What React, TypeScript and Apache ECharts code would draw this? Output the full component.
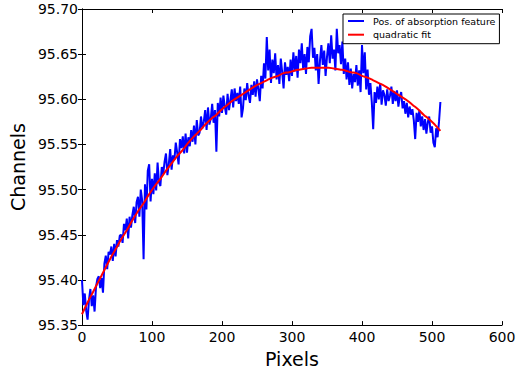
import { useEffect, useRef } from "react";
import * as echarts from "echarts";

const seriesNames = ["Pos. of absorption feature", "quadratic fit"];
const xLabel = "Pixels";
const yLabel = "Channels";
const xMin = 0;
const xMax = 600;
const xInterval = 100;
const yMin = 95.35;
const yMax = 95.7;
const yInterval = 0.05;

// measured position, sampled every 2 pixels (0..512)
const absorptionStep = 2;
const absorption = [
  95.400, 95.372, 95.385, 95.366,
  95.356, 95.378, 95.390, 95.371,
  95.383, 95.365, 95.392, 95.401,
  95.404, 95.391, 95.402, 95.386,
  95.418, 95.427, 95.412, 95.431,
  95.428, 95.437, 95.421, 95.440,
  95.426, 95.444, 95.437, 95.449,
  95.450, 95.441, 95.462, 95.455,
  95.468, 95.446, 95.470, 95.458,
  95.472, 95.481, 95.463, 95.486,
  95.492, 95.470, 95.500, 95.488,
  95.423, 95.506, 95.478, 95.521,
  95.528, 95.487, 95.512, 95.495,
  95.518, 95.499, 95.530, 95.508,
  95.504, 95.525, 95.517, 95.531,
  95.540, 95.516, 95.528, 95.545,
  95.522, 95.538, 95.533, 95.552,
  95.541, 95.528, 95.556, 95.546,
  95.559, 95.540, 95.562, 95.541,
  95.558, 95.548, 95.566, 95.553,
  95.571, 95.550, 95.577, 95.560,
  95.563, 95.581, 95.568, 95.575,
  95.588, 95.566, 95.591, 95.572,
  95.579, 95.595, 95.574, 95.588,
  95.542, 95.596, 95.581, 95.602,
  95.585, 95.604, 95.592, 95.583,
  95.606, 95.588, 95.599, 95.611,
  95.591, 95.612, 95.598, 95.607,
  95.595, 95.614, 95.580, 95.590,
  95.612, 95.599, 95.618, 95.604,
  95.596, 95.616, 95.605, 95.620,
  95.603, 95.622, 95.611, 95.598,
  95.626, 95.612, 95.640, 95.623,
  95.669, 95.632, 95.655, 95.618,
  95.644, 95.629, 95.651, 95.622,
  95.638, 95.617, 95.645, 95.630,
  95.612, 95.641, 95.627, 95.636,
  95.620, 95.644, 95.626, 95.652,
  95.631, 95.648, 95.624, 95.655,
  95.640, 95.662, 95.633, 95.650,
  95.628, 95.658, 95.641, 95.670,
  95.678, 95.646, 95.657, 95.632,
  95.650, 95.617, 95.643, 95.660,
  95.638, 95.654, 95.626, 95.647,
  95.662, 95.640, 95.671, 95.645,
  95.655, 95.632, 95.678, 95.651,
  95.660, 95.639, 95.664, 95.628,
  95.645, 95.622, 95.641, 95.616,
  95.634, 95.612, 95.628, 95.619,
  95.638, 95.615, 95.632, 95.608,
  95.660, 95.629, 95.652, 95.611,
  95.633, 95.605, 95.618, 95.597,
  95.567, 95.608, 95.596, 95.614,
  95.600, 95.618, 95.594, 95.610,
  95.605, 95.593, 95.611, 95.598,
  95.604, 95.614, 95.595, 95.609,
  95.598, 95.610, 95.592, 95.603,
  95.608, 95.590, 95.598, 95.584,
  95.596, 95.580, 95.592, 95.583,
  95.589, 95.577, 95.556, 95.585,
  95.575, 95.588, 95.570, 95.581,
  95.566, 95.578, 95.562, 95.575,
  95.581, 95.563, 95.570, 95.552,
  95.547, 95.568, 95.558, 95.575,
  95.597,
];

// quadratic fit, sampled every 8 pixels (0..512)
const fitStep = 8;
const quadraticFit = [
  95.362, 95.375, 95.387, 95.399, 95.411, 95.423, 95.434, 95.445,
  95.455, 95.466, 95.476, 95.485, 95.495, 95.504, 95.512, 95.521,
  95.529, 95.537, 95.544, 95.552, 95.559, 95.565, 95.572, 95.578,
  95.583, 95.589, 95.594, 95.599, 95.603, 95.607, 95.611, 95.615,
  95.618, 95.621, 95.624, 95.626, 95.629, 95.630, 95.632, 95.633,
  95.634, 95.635, 95.635, 95.635, 95.635, 95.634, 95.633, 95.632,
  95.630, 95.629, 95.626, 95.624, 95.621, 95.618, 95.615, 95.611,
  95.607, 95.603, 95.599, 95.594, 95.589, 95.583, 95.578, 95.572,
  95.565,
];

const FONT = "DejaVu Sans";

export default function App() {
  const ref = useRef<HTMLDivElement>(null);

  useEffect(() => {
    document.body.style.margin = "0";
    if (!ref.current) return;
    const chart = echarts.init(ref.current, undefined, { renderer: "svg" });

    const absData = absorption.map((v, i) => [i * absorptionStep, v]);
    const fitData = quadraticFit.map((v, i) => [i * fitStep, v]);

    const axisLine = { show: true, lineStyle: { color: "#000", width: 1 } };
    const tick = { show: true, inside: true, length: 4, lineStyle: { color: "#000", width: 1 } };

    chart.setOption({
      animation: false,
      backgroundColor: "#fff",
      textStyle: { fontFamily: FONT },
      grid: { left: 80, right: 17, top: 9, bottom: 37, containLabel: false },
      legend: {
        orient: "vertical",
        left: 343,
        top: 14,
        itemWidth: 16,
        itemHeight: 10,
        itemGap: 3.7,
        padding: [2, 4, 4, 5],
        borderColor: "#000",
        borderWidth: 1,
        backgroundColor: "#fff",
        textStyle: { fontFamily: FONT, fontSize: 9.5, color: "#000", padding: [0, 0, 0, 4], lineHeight: 10 },
        data: [
          { name: seriesNames[0], icon: "path://M0,0 L16,0 L16,2 L0,2 Z" },
          { name: seriesNames[1], icon: "path://M0,0 L16,0 L16,2 L0,2 Z" },
        ],
      },
      xAxis: [
        {
          type: "value", min: xMin, max: xMax, interval: xInterval, position: "bottom",
          name: xLabel, nameLocation: "middle", nameGap: 17,
          nameTextStyle: { fontFamily: FONT, fontSize: 19, color: "#000" },
          axisLine, axisTick: tick, splitLine: { show: false },
          axisLabel: { fontFamily: FONT, fontSize: 14, color: "#000", margin: 5 },
        },
        {
          type: "value", min: xMin, max: xMax, interval: xInterval, position: "top",
          axisLine, axisTick: tick, splitLine: { show: false }, axisLabel: { show: false },
        },
      ],
      yAxis: [
        {
          type: "value", min: yMin, max: yMax, interval: yInterval, position: "left",
          name: yLabel, nameLocation: "middle", nameGap: 44,
          nameTextStyle: { fontFamily: FONT, fontSize: 19, color: "#000" },
          axisLine, axisTick: tick, splitLine: { show: false },
          axisLabel: { fontFamily: FONT, fontSize: 14, color: "#000", margin: 4, formatter: (v: number) => v.toFixed(2) },
        },
        {
          type: "value", min: yMin, max: yMax, interval: yInterval, position: "right",
          axisLine, axisTick: tick, splitLine: { show: false }, axisLabel: { show: false },
        },
      ],
      series: [
        {
          name: seriesNames[0], type: "line", data: absData, showSymbol: false,
          color: "#0000ff", lineStyle: { color: "#0000ff", width: 2 }, z: 2,
        },
        {
          name: seriesNames[1], type: "line", data: fitData, showSymbol: false, smooth: true,
          color: "#ff0000", lineStyle: { color: "#ff0000", width: 2 }, z: 3,
        },
      ],
    });

    return () => chart.dispose();
  }, []);

  return <div ref={ref} style={{ width: 519, height: 373 }} />;
}
